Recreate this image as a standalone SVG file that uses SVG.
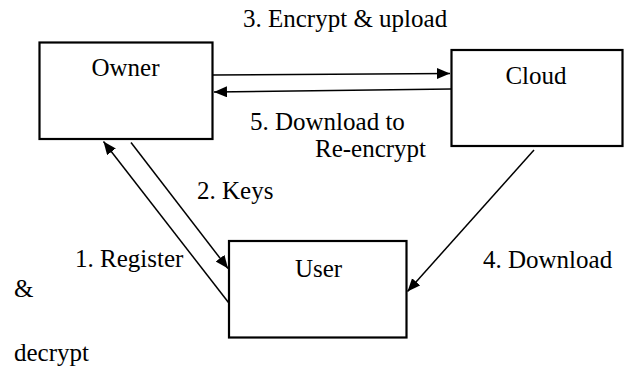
<svg xmlns="http://www.w3.org/2000/svg" width="628" height="368" viewBox="0 0 628 368">
  <defs>
    <marker id="arrow" markerUnits="userSpaceOnUse" markerWidth="14" markerHeight="12" refX="13" refY="5.5" orient="auto">
      <path d="M0,0 L13,5.5 L0,11 z" fill="#000"/>
    </marker>
    <style>
      .box { fill: #fff; stroke: #000; stroke-width: 2.2; }
      .lbl { font-family: 'Liberation Serif', 'Times New Roman', serif; font-size: 25px; fill: #000; }
      .edge { stroke: #000; stroke-width: 1.5; fill: none; }
    </style>
  </defs>
  <rect width="628" height="368" fill="#fff"/>

  <g id="connectors">
    <!-- 3. Encrypt & upload -->
    <line class="edge" x1="213" y1="75" x2="450" y2="73.5" marker-end="url(#arrow)"/>
    <!-- 5. Download to Re-encrypt -->
    <line class="edge" x1="451" y1="89" x2="214" y2="92" marker-end="url(#arrow)"/>
    <!-- 1. Register -->
    <line class="edge" x1="228.5" y1="302.5" x2="103.5" y2="141.5" marker-end="url(#arrow)"/>
    <!-- 2. Keys -->
    <line class="edge" x1="131" y1="142.5" x2="228" y2="268.5" marker-end="url(#arrow)"/>
    <!-- 4. Download -->
    <line class="edge" x1="534" y1="150" x2="407.5" y2="291.5" marker-end="url(#arrow)"/>
  </g>

  <g id="owner">
    <rect class="box" x="39.5" y="42.5" width="173" height="96.5"/>
    <text class="lbl" x="125.5" y="76" text-anchor="middle">Owner</text>
  </g>

  <g id="cloud">
    <rect class="box" x="451.5" y="50" width="171" height="96"/>
    <text class="lbl" x="536" y="83.5" text-anchor="middle">Cloud</text>
  </g>

  <g id="user">
    <rect class="box" x="229" y="241" width="177.5" height="96.5"/>
    <text class="lbl" x="318.5" y="277" text-anchor="middle">User</text>
  </g>

  <g id="labels">
    <text class="lbl" x="243" y="27">3. Encrypt &amp; upload</text>
    <text class="lbl" x="250" y="130">5. Download to</text>
    <text class="lbl" x="315" y="157">Re-encrypt</text>
    <text class="lbl" x="197" y="198.5">2. Keys</text>
    <text class="lbl" x="75" y="267">1. Register</text>
    <text class="lbl" x="483" y="267.5">4. Download</text>
    <text class="lbl" x="14" y="297">&amp;</text>
    <text class="lbl" x="14" y="361">decrypt</text>
  </g>
</svg>
